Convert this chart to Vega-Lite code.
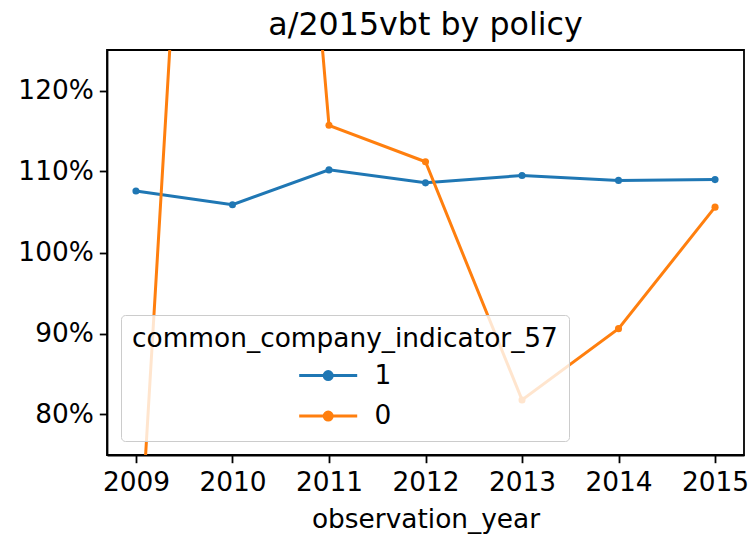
{
  "$schema": "https://vega.github.io/schema/vega-lite/v6.json",
  "width": 637,
  "height": 405,
  "autosize": {"type": "none"},
  "padding": {"left": 107, "top": 50, "right": 6, "bottom": 80},
  "background": "white",
  "title": {"text": "a/2015vbt by policy", "fontSize": 31.7, "font": "DejaVu Sans", "fontWeight": "normal", "color": "#000", "offset": 8, "anchor": "middle"},
  "data": {"values": [
    {"year": 2009, "indicator": "1", "value": 1.076},
    {"year": 2010, "indicator": "1", "value": 1.059},
    {"year": 2011, "indicator": "1", "value": 1.102},
    {"year": 2012, "indicator": "1", "value": 1.086},
    {"year": 2013, "indicator": "1", "value": 1.095},
    {"year": 2014, "indicator": "1", "value": 1.089},
    {"year": 2015, "indicator": "1", "value": 1.090},
    {"year": 2009, "indicator": "0", "value": 0.55},
    {"year": 2010, "indicator": "0", "value": 2.55},
    {"year": 2011, "indicator": "0", "value": 1.157},
    {"year": 2012, "indicator": "0", "value": 1.112},
    {"year": 2013, "indicator": "0", "value": 0.818},
    {"year": 2014, "indicator": "0", "value": 0.906},
    {"year": 2015, "indicator": "0", "value": 1.056}
  ]},
  "encoding": {
    "x": {"field": "year", "type": "quantitative", "scale": {"domain": [2008.7, 2015.3], "nice": false, "zero": false},
      "axis": {"values": [2009, 2010, 2011, 2012, 2013, 2014, 2015], "format": "d", "title": "observation_year"}},
    "y": {"field": "value", "type": "quantitative", "scale": {"domain": [0.75, 1.25], "nice": false, "zero": false},
      "axis": {"values": [0.8, 0.9, 1.0, 1.1, 1.2], "format": ".0%", "title": null}},
    "color": {"field": "indicator", "type": "nominal", "sort": ["1", "0"],
      "scale": {"domain": ["1", "0"], "range": ["#1f77b4", "#ff7f0e"]},
      "legend": {
        "orient": "bottom-left", "offset": 14,
        "title": "common_company_indicator_57", "titleLimit": 1000,
        "titleFontSize": 26.4, "titleFont": "DejaVu Sans", "titleFontWeight": "normal", "titleColor": "#000",
        "labelFontSize": 26.4, "labelFont": "DejaVu Sans", "labelColor": "#000",
        "padding": 11, "titlePadding": 10, "rowPadding": 13.5,
        "fillColor": "rgba(255,255,255,0.8)", "strokeColor": "#cccccc", "cornerRadius": 4,
        "symbolType": "M-2.9,0H2.9M0.4,0A0.4,0.4 0 1,1 -0.4,0A0.4,0.4 0 1,1 0.4,0Z",
        "symbolSize": 400, "symbolStrokeWidth": 3, "symbolOffset": 183, "labelOffset": 33,
        "encode": {"symbols": {"update": {"fill": {"scale": "color", "field": "value"}, "fillOpacity": {"value": 1}}}}
      }}
  },
  "layer": [
    {"mark": {"type": "line", "strokeWidth": 3, "clip": true}},
    {"mark": {"type": "point", "filled": true, "size": 50, "opacity": 1, "clip": true}}
  ],
  "config": {
    "axis": {"domainColor": "#000", "domainWidth": 1.8, "tickColor": "#000", "tickWidth": 1.8, "tickSize": 7.7,
      "labelFont": "DejaVu Sans", "labelFontSize": 26.4, "labelColor": "#000", "labelPadding": 7,
      "titleFont": "DejaVu Sans", "titleFontSize": 26.4, "titleFontWeight": "normal", "titleColor": "#000",
      "titlePadding": 10, "grid": false},
    "axisY": {"labelPadding": 6},
    "view": {"stroke": "#000", "strokeWidth": 1.8}
  }
}
